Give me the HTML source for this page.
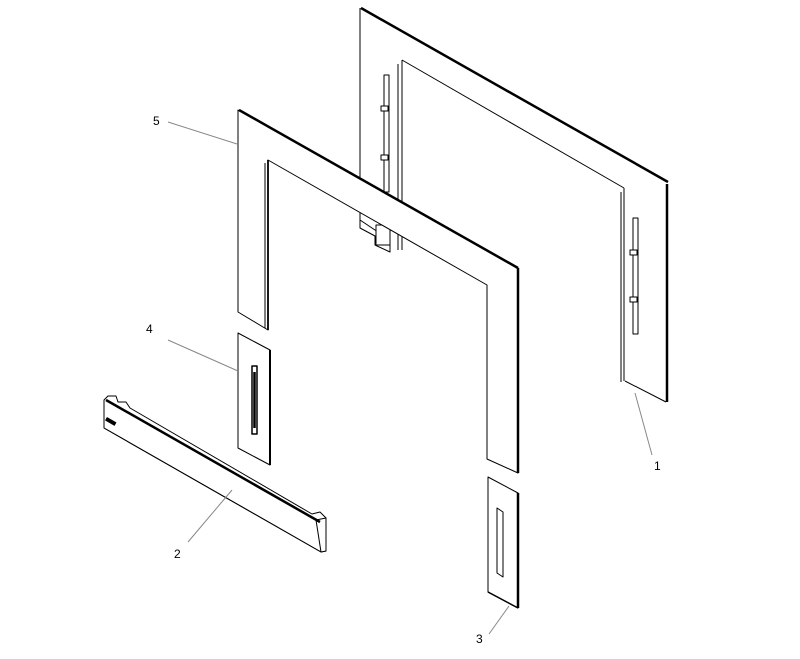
<!DOCTYPE html>
<html><head><style>html,body{margin:0;padding:0;background:#fff}svg{display:block}</style></head>
<body>
<svg width="800" height="659" viewBox="0 0 800 659" xmlns="http://www.w3.org/2000/svg" font-family="Liberation Sans, sans-serif">
<g fill="none" stroke="#000" stroke-width="1" stroke-linejoin="round">
<!-- Part 1 back panel -->
<line x1="360" y1="8" x2="360" y2="228"/>
<line x1="361" y1="8" x2="668" y2="182" stroke-width="2.5"/>
<line x1="667" y1="184" x2="667" y2="402" stroke-width="2.5"/>
<line x1="625" y1="381" x2="666" y2="402"/>
<line x1="402" y1="60" x2="624" y2="188"/>
<line x1="624" y1="188" x2="624" y2="381"/>
<line x1="621" y1="192" x2="621" y2="382"/>
<line x1="398" y1="64" x2="398" y2="250"/>
<line x1="402" y1="60" x2="402" y2="250"/>
<g fill="#fff">
<!-- left bracket on back panel -->
<rect x="384" y="75" width="5" height="117"/>
<rect x="381" y="106" width="7" height="5"/>
<rect x="381" y="155" width="7" height="5"/>
<!-- right bracket -->
<rect x="633" y="218" width="5" height="116"/>
<rect x="630" y="250" width="7" height="5"/>
<rect x="630" y="297" width="7" height="5"/>
<!-- blocks below -->
<polygon points="360,220 360,228 375,236 375,245 390,252 390,240"/>
<rect x="376" y="225" width="14" height="20"/>
<!-- Part 5 frame -->
<polygon points="238,110 518,268 518,473 487,459 487,285 268,160 268,330 238,312"/>
</g>
<line x1="239" y1="110" x2="518" y2="268" stroke-width="2.5"/>
<line x1="518" y1="268" x2="518" y2="473" stroke-width="2.5"/>
<line x1="265" y1="163" x2="265" y2="328"/>
<line x1="268" y1="160" x2="268" y2="330" stroke-width="1.8"/>
<g fill="#fff">
<!-- Part 4 -->
<polygon points="238,333 270,350 270,465 238,448"/>
<rect x="252" y="366" width="5" height="68" stroke-width="1.5"/>
<!-- Part 3 -->
<polygon points="488,477 518,493 518,608 488,592"/>
<polygon points="497,508 503,512 503,577 497,573"/>
<!-- Part 2 -->
<polygon points="104,400 108,396 116,396 118,402 126,402 130,408 312,514 320,512 326,518 326,551 321,552 104,428"/>
<polygon points="316,520 326,518 326,551 321,552"/>
</g>
<line x1="270" y1="350" x2="270" y2="465" stroke-width="2"/>
<line x1="254.5" y1="372" x2="254.5" y2="428" stroke-width="2.5"/>
<line x1="518" y1="493" x2="518" y2="608" stroke-width="2.5"/>
<line x1="488" y1="592" x2="518" y2="608" stroke-width="1.5"/>
<line x1="106" y1="400" x2="320" y2="522" stroke-width="2.5"/>
<line x1="104" y1="428" x2="321" y2="552"/>
<rect x="106" y="420" width="10" height="3" fill="#000" transform="rotate(30 111 421)"/>
</g>
<g stroke="#888" stroke-width="1">
<line x1="168" y1="122" x2="237" y2="144"/>
<line x1="168" y1="340" x2="238" y2="371"/>
<line x1="188" y1="542" x2="232" y2="490"/>
<line x1="652" y1="455" x2="635" y2="393"/>
<line x1="489" y1="634" x2="509" y2="606"/>
</g>
<g font-size="12" fill="#000">
<text x="153" y="125">5</text>
<text x="146" y="333">4</text>
<text x="174" y="558">2</text>
<text x="654" y="470">1</text>
<text x="476" y="643">3</text>
</g>
</svg>
</body></html>
